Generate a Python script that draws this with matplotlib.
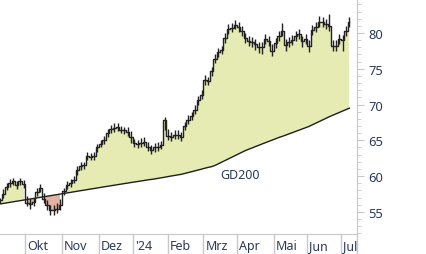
import matplotlib
matplotlib.use("Agg")
import matplotlib.pyplot as plt
import matplotlib.transforms as mtransforms
import numpy as np

# prices sampled every 2 trading days (mid-Sep 2023 .. early Jul 2024)
close = [56.6, 57.5, 58.5, 59.0, 59.3, 58.7, 59.3, 58.9, 56.3, 56.1,
         56.4, 57.8, 58.3, 56.8, 55.9, 55.3, 55.2, 55.4, 55.9, 57.9,
         58.8, 59.0, 59.5, 60.8, 61.4, 61.5, 62.8, 62.7, 62.8, 64.0,
         64.5, 65.0, 66.0, 66.6, 66.7, 66.9, 66.5, 66.4, 66.2, 65.5,
         64.6, 64.5, 64.6, 64.8, 64.1, 63.7, 64.0, 64.0, 64.3, 67.8,
         65.6, 65.5, 65.8, 65.8, 65.5, 67.0, 67.9, 68.4, 69.3, 70.6,
         71.4, 73.5, 73.3, 74.7, 76.4, 77.3, 77.6, 79.3, 80.5, 80.7,
         81.1, 80.9, 80.3, 79.3, 78.9, 78.7, 78.5, 78.0, 78.0, 79.2,
         78.9, 77.5, 78.6, 79.6, 80.3, 78.3, 78.7, 79.0, 79.6, 79.9,
         78.9, 79.2, 78.2, 80.4, 80.9, 81.5, 81.6, 81.2, 81.0, 78.2,
         78.2, 79.2, 79.0, 80.3, 81.5]

high = [57.0, 58.2, 59.0, 59.6, 59.8, 59.3, 59.7, 59.4, 57.2, 56.8,
        57.0, 58.3, 58.9, 57.6, 56.6, 56.0, 56.0, 56.2, 56.8, 58.4,
        59.3, 59.6, 60.0, 61.4, 61.9, 62.0, 63.3, 63.2, 63.4, 64.5,
        65.0, 65.6, 66.6, 67.2, 67.4, 67.4, 67.0, 66.9, 66.8, 66.3,
        65.2, 65.1, 65.3, 65.4, 64.7, 64.3, 64.6, 64.7, 64.9, 68.3,
        66.6, 66.1, 66.4, 66.5, 66.2, 67.6, 68.5, 69.0, 69.9, 71.2,
        72.0, 74.1, 73.9, 75.3, 77.0, 77.9, 78.2, 80.0, 81.2, 81.4,
        81.8, 81.5, 81.0, 80.0, 79.6, 79.4, 79.2, 78.8, 78.7, 79.9,
        79.6, 78.4, 79.3, 80.3, 81.4, 79.1, 79.4, 79.7, 80.3, 80.6,
        79.6, 79.9, 79.0, 81.1, 81.6, 82.4, 82.3, 82.0, 82.7, 79.0,
        79.0, 79.9, 79.7, 81.0, 82.2]

low = [56.2, 57.0, 58.0, 58.5, 58.8, 58.2, 58.7, 58.3, 55.8, 55.4,
       55.8, 57.2, 57.8, 56.3, 55.2, 54.6, 54.5, 54.8, 55.3, 57.3,
       58.2, 58.5, 59.0, 60.2, 60.9, 61.0, 62.2, 62.2, 62.3, 63.4,
       64.0, 64.5, 65.4, 66.0, 66.1, 66.3, 66.0, 65.9, 65.6, 64.6,
       64.0, 63.9, 64.0, 64.2, 63.5, 63.1, 63.4, 63.5, 63.8, 66.5,
       65.0, 64.9, 65.2, 65.2, 64.9, 66.4, 67.3, 67.8, 68.7, 70.0,
       70.8, 72.8, 72.7, 74.0, 75.8, 76.7, 77.0, 78.6, 79.8, 80.1,
       80.5, 80.2, 79.6, 78.6, 78.2, 78.0, 77.6, 77.2, 77.1, 78.5,
       78.2, 76.8, 77.9, 78.9, 79.6, 77.5, 78.0, 78.3, 78.9, 79.2,
       78.1, 78.5, 77.4, 79.7, 80.2, 80.8, 80.9, 80.5, 80.3, 77.5,
       77.5, 78.5, 77.5, 79.6, 80.8]

gd200 = [56.10, 56.18, 56.25, 56.33, 56.41, 56.49, 56.56, 56.64, 56.72, 56.80,
         56.87, 56.95, 57.03, 57.10, 57.18, 57.26, 57.34, 57.41, 57.49, 57.57,
         57.65, 57.72, 57.80, 57.88, 57.96, 58.03, 58.11, 58.19, 58.26, 58.34,
         58.42, 58.50, 58.57, 58.65, 58.72, 58.80, 58.87, 58.95, 59.02, 59.10,
         59.17, 59.24, 59.32, 59.39, 59.47, 59.53, 59.60, 59.68, 59.76, 59.84,
         59.93, 60.01, 60.09, 60.17, 60.25, 60.37, 60.49, 60.61, 60.73, 60.85,
         60.97, 61.10, 61.22, 61.32, 61.49, 61.72, 61.95, 62.18, 62.41, 62.64,
         62.87, 63.10, 63.33, 63.56, 63.75, 63.93, 64.12, 64.30, 64.49, 64.67,
         64.85, 65.03, 65.21, 65.40, 65.55, 65.72, 65.90, 66.07, 66.25, 66.42,
         66.60, 66.77, 66.95, 67.18, 67.40, 67.62, 67.85, 68.07, 68.30, 68.50,
         68.70, 68.90, 69.10, 69.30, 69.50]

month_labels = ["Okt", "Nov", "Dez", "'24", "Feb", "Mrz", "Apr", "Mai", "Jun", "Jul"]
month_start_day = [15, 37, 59, 79, 100, 121, 141, 163, 183, 203]  # trading-day index

x = np.arange(len(close)) * 2
c = np.array(close)
g = np.array(gd200)

W, H = 426, 255
fig = plt.figure(figsize=(W / 100, H / 100), dpi=100)
ax = fig.add_axes([0, 20 / H, 357 / W, 235 / H])

txt_color = "#2b3a58"
grid_color = "#c8c8c8"

ax.fill_between(x, c, g, where=c >= g, step="mid", color="#e5ebb2", lw=0)
ax.fill_between(x, c, g, where=c <= g, step="mid", color="#e2b3a2", lw=0)
ax.plot(x, g, color="#1e1e1e", lw=1.0)
ax.plot(x, c, color="#222222", lw=1.0, drawstyle="steps-mid")
ax.vlines(x, low, high, color="#222222", lw=1.0)

ax.text(143, 60.2, "GD200", color=txt_color, fontsize=9, family="Noto Sans",
        ha="center", va="center")

ax.set_xlim(0, 212.5)
ax.set_ylim(51.9, 84.76)

for s in ["top", "left"]:
    ax.spines[s].set_visible(False)
ax.spines["right"].set_color(grid_color)
ax.spines["bottom"].set_color(grid_color)

ax.yaxis.tick_right()
ax.set_yticks([55, 60, 65, 70, 75, 80])
ax.set_yticks(np.arange(52, 85, 1), minor=True)
ax.tick_params(axis="y", which="major", length=5, color=grid_color, labelcolor=txt_color,
               labelsize=9.3, pad=3)
ax.tick_params(axis="y", which="minor", length=3, color=grid_color)
for lab in ax.get_yticklabels():
    lab.set_family("Noto Sans")

ax.set_xticks([])
trans = mtransforms.blended_transform_factory(ax.transData, ax.transAxes)
for pos, lab in zip(month_start_day, month_labels):
    ax.plot([pos, pos], [0, -20 / 235], color=grid_color, lw=1, transform=trans, clip_on=False)
    ax.text(pos + 1.2, -12 / 235, lab, transform=trans, color=txt_color, fontsize=9,
            family="Noto Sans", ha="left", va="center", clip_on=False)
ax.plot([212.5, 212.5], [0, -20 / 235], color=grid_color, lw=1, transform=trans, clip_on=False)

fig.savefig("out.png", dpi=100)
